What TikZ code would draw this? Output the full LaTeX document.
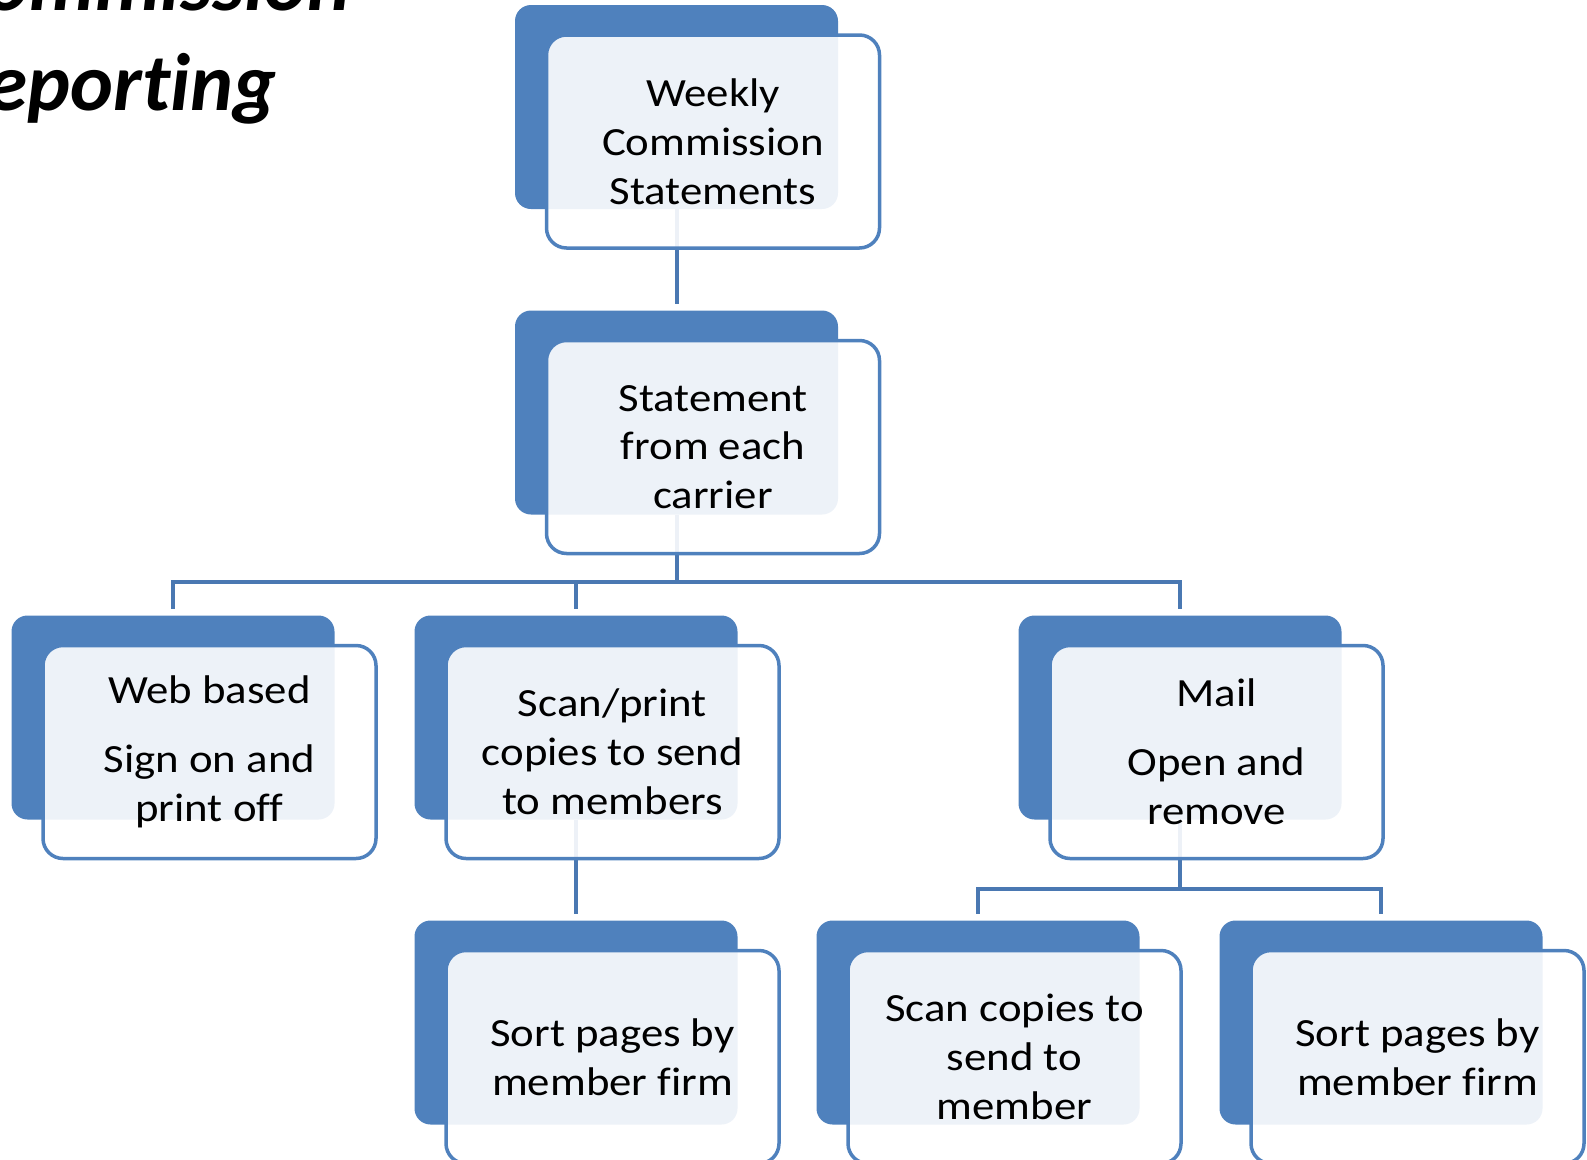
\documentclass[tikz,border=0pt]{standalone}
\usepackage{fontspec}
\setmainfont{Carlito}[FakeStretch=1.12, Ligatures=NoCommon]
\newfontfamily\titlefont{Carlito}[Ligatures=NoCommon]
\definecolor{accent}{HTML}{4F81BD}
\definecolor{connc}{HTML}{4A78B2}
\begin{document}
\begin{tikzpicture}[x=1pt,y=-1pt,
  darkbox/.style={fill=accent, rounded corners=16pt, minimum width=323pt, minimum height=204pt, inner sep=0pt},
  lightbox/.style={draw=accent, line width=3.5pt, fill=white, fill opacity=0.9, text opacity=1, draw opacity=1,
    rounded corners=20pt, minimum width=333pt, minimum height=213pt, align=center, text=black,
    font=\fontsize{40}{48.8}\selectfont, inner sep=0pt},
  conn/.style={draw=connc, line width=4pt},
  titletext/.style={font=\titlefont\fontsize{81.5}{99.5}\selectfont\bfseries\itshape, anchor=base east, inner sep=0pt}]
\useasboundingbox (0,0) rectangle (1587,1159);
\clip (0,0) rectangle (1587,1159);

% title (cut off at the left edge)
\node[titletext] (t1) at (351,10) {Commission};
\node[titletext] (t2) at (277,110) {Reporting};

% dark boxes
\node[darkbox] (d1) at (676.5,107) {};
\node[darkbox] (d2) at (676.5,412.5) {};
\node[darkbox] (d3a) at (173,717.5) {};
\node[darkbox] (d3b) at (576,717.5) {};
\node[darkbox] (d3c) at (1180,717.5) {};
\node[darkbox] (d4a) at (576,1022.5) {};
\node[darkbox] (d4b) at (978,1022.5) {};
\node[darkbox] (d4c) at (1381,1022.5) {};

% connectors
\draw[conn] (d1.south) -- ([yshift=6pt]d2.north);
\draw[conn] (d2.south) -- ++(0,67) -| ([yshift=6pt]d3a.north);
\draw[conn] (d2.south) -- ++(0,67) -| ([yshift=6pt]d3b.north);
\draw[conn] (d2.south) -- ++(0,67) -| ([yshift=6pt]d3c.north);
\draw[conn] (d3b.south) -- ([yshift=6pt]d4a.north);
\draw[conn] (d3c.south) -- ++(0,69) -| ([yshift=6pt]d4b.north);
\draw[conn] (d3c.south) -- ++(0,69) -| ([yshift=6pt]d4c.north);

% light boxes with text
\node[lightbox] (l1) at (713,141.5) {Weekly\\Commission\\Statements};
\node[lightbox] (l2) at (713,447) {Statement\\from each\\carrier};
\node[lightbox] (l3a) at (209.5,752) {Web based\\[20pt]Sign on and\\print off};
\node[lightbox] (l3b) at (612.5,752) {Scan/print\\copies to send\\to members};
\node[lightbox] (l3c) at (1216.5,752) {Mail\\[20pt]Open and\\remove};
\node[lightbox] (l4a) at (612.5,1057) {Sort pages by\\member firm};
\node[lightbox] (l4b) at (1014.5,1057) {Scan copies to\\send to\\member};
\node[lightbox] (l4c) at (1417.5,1057) {Sort pages by\\member firm};
\end{tikzpicture}
\end{document}
